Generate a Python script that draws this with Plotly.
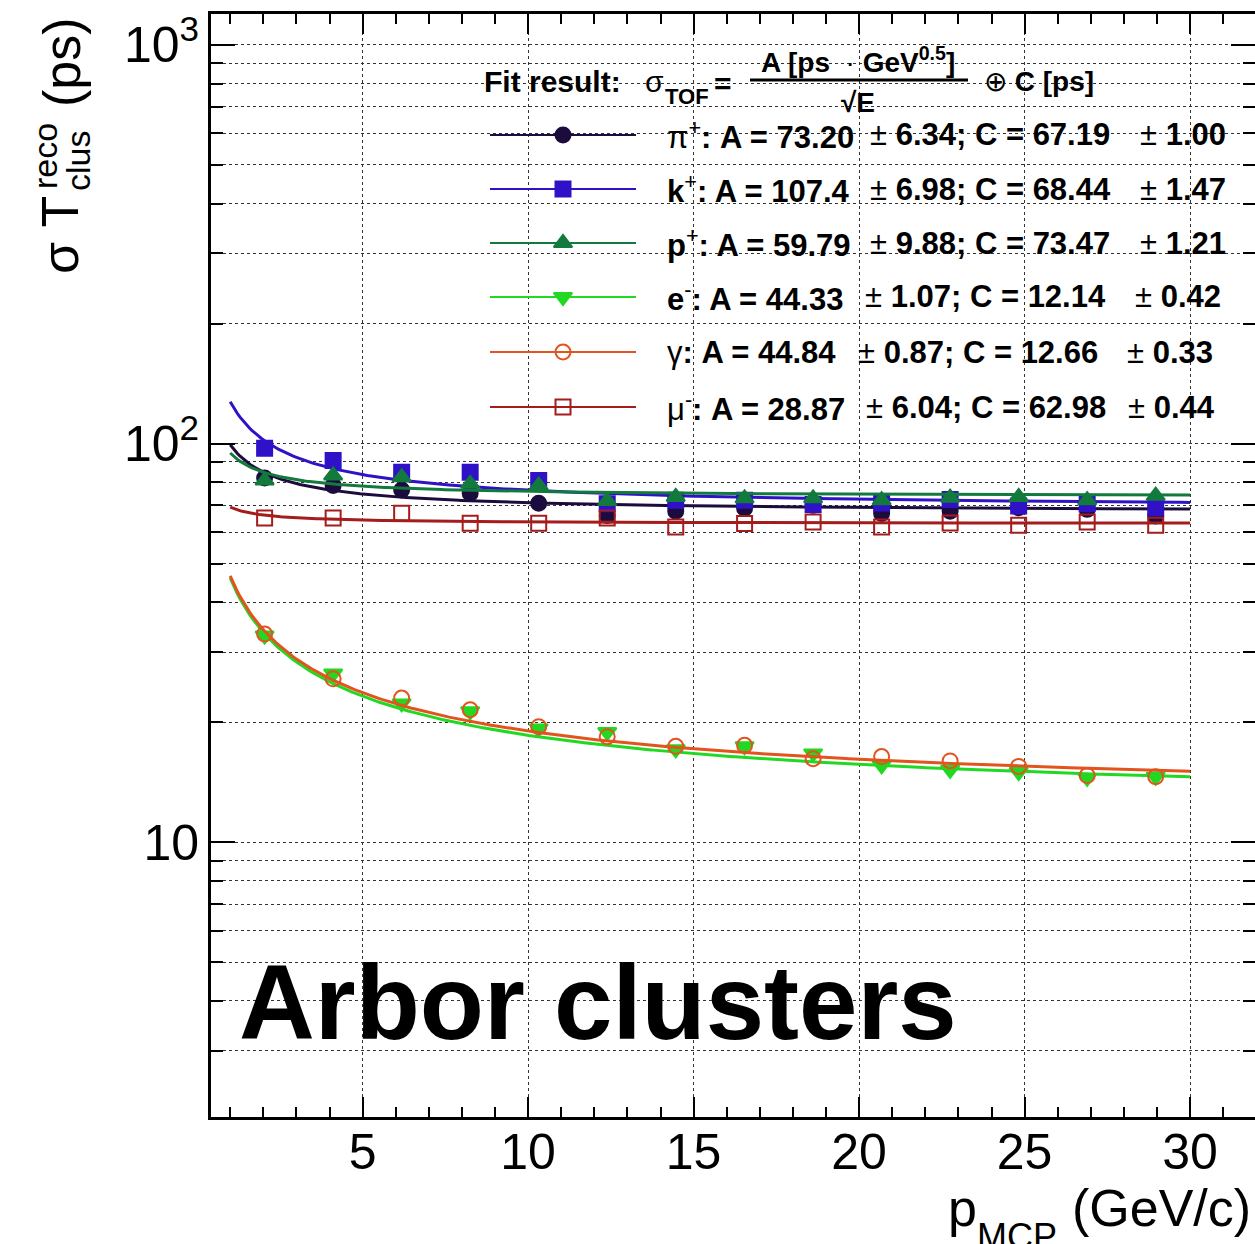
import numpy as np
import plotly.graph_objects as go

# ---------------- data ----------------
p_mcp = [2.04, 4.11, 6.18, 8.25, 10.32, 12.39, 14.46, 16.54, 18.61, 20.68, 22.75, 24.82, 26.89, 28.96]

sig_pi = [82.0, 78.5, 76.5, 75.1, 70.9, 66.0, 67.7, 68.8, 70.0, 66.8, 67.7, 69.0, 68.4, 65.8]
sig_k = [97.3, 90.7, 84.7, 84.7, 80.8, 70.7, 72.1, 72.1, 70.4, 71.0, 72.4, 69.7, 70.7, 69.0]
sig_p = [80.8, 83.2, 82.3, 79.3, 78.5, 71.8, 73.5, 72.9, 72.9, 72.1, 73.2, 73.5, 72.1, 74.0]
sig_e = [33.0, 26.5, 22.3, 21.3, 19.3, 18.9, 17.1, 17.4, 16.7, 15.6, 15.2, 15.0, 14.5, 14.6]
sig_gamma = [33.3, 25.7, 23.0, 21.5, 19.5, 18.4, 17.4, 17.5, 16.2, 16.4, 16.0, 15.5, 14.7, 14.6]
sig_mu = [65.1, 65.1, 66.9, 63.1, 63.1, 65.1, 61.8, 63.0, 63.6, 61.8, 63.2, 62.4, 63.6, 62.4]

species = ["pi", "k", "p", "e", "gamma", "mu"]
species_names = ["π<sup>+</sup>", "<b>k</b><sup>+</sup>", "<b>p</b><sup>+</sup>",
                 "<b>e</b><sup>-</sup>", "γ", "μ<sup>-</sup>"]
fit_A = [73.20, 107.4, 59.79, 44.33, 44.84, 28.87]
fit_A_err = [6.34, 6.98, 9.88, 1.07, 0.87, 6.04]
fit_C = [67.19, 68.44, 73.47, 12.14, 12.66, 62.98]
fit_C_err = [1.00, 1.47, 1.21, 0.42, 0.33, 0.44]
fit_A_txt = ["73.20", "107.4", "59.79", "44.33", "44.84", "28.87"]
fit_Aerr_txt = ["6.34", "6.98", "9.88", "1.07", "0.87", "6.04"]
fit_C_txt = ["67.19", "68.44", "73.47", "12.14", "12.66", "62.98"]
fit_Cerr_txt = ["1.00", "1.47", "1.21", "0.42", "0.33", "0.44"]
fit_range = [1.0, 30.0]

x_ticks = [5, 10, 15, 20, 25, 30]
y_ticks = [10, 100, 1000]
y_ticktext = ["10", "10<sup>2</sup>", "10<sup>3</sup>"]

# ---------------- styles ----------------
colors = ["#1c0c3e", "#2f12c8", "#137a3e", "#22d822", "#e2541e", "#a41c1c"]
symbols = ["circle", "square", "triangle-up", "triangle-down", "circle-open", "square-open"]
msize = [15, 15, 16, 16, 15, 15]
sig_all = [sig_pi, sig_k, sig_p, sig_e, sig_gamma, sig_mu]

FONT = "Liberation Sans, Arial, Helvetica, sans-serif"

# pixel frame of plot area
L, R, T, B = 211, 1255, 14, 1117
W, H = 1255, 1244
XR = [0.42, 31.96]
YR = [0.3108, 3.0777]


def px(x):
    return (x - L) / (R - L)


def py(y):
    return (B - y) / (B - T)


fig = go.Figure()

E = np.linspace(fit_range[0], fit_range[1], 400)
for i, s in enumerate(species):
    fig.add_trace(go.Scatter(
        x=p_mcp, y=sig_all[i], mode="markers", showlegend=False,
        marker=dict(symbol=symbols[i], size=msize[i], color=colors[i],
                    line=dict(color=colors[i], width=2)),
        cliponaxis=True))
    curve = np.sqrt((fit_A[i] / np.sqrt(E)) ** 2 + fit_C[i] ** 2)
    fig.add_trace(go.Scatter(x=E, y=curve, mode="lines", showlegend=False,
                             line=dict(color=colors[i], width=3)))

# dummy trace for mirrored axes
fig.add_trace(go.Scatter(x=[None], y=[None], xaxis="x2", yaxis="y2", showlegend=False))

# legend keys (pixel-coordinate overlay axes)
row_y = [135, 189, 243, 297, 352, 407]
key_x = [490, 636]
key_mx = 563
for i in range(6):
    fig.add_trace(go.Scatter(
        x=key_x, y=[row_y[i]] * 2, xaxis="x3", yaxis="y3",
        mode="lines", showlegend=False, line=dict(color=colors[i], width=2)))
    fig.add_trace(go.Scatter(
        x=[key_mx], y=[row_y[i]], xaxis="x3", yaxis="y3",
        mode="markers", showlegend=False,
        marker=dict(symbol=symbols[i], size=msize[i], color=colors[i], opacity=1,
                    line=dict(color=colors[i], width=2))))

minor_x = [v for v in range(1, 32) if v % 5 != 0]
minor_y = [m * 10 ** d for d in range(0, 3) for m in range(2, 10)]

common_x = dict(range=XR, tickmode="array", tickvals=x_ticks, ticks="inside",
                ticklen=20, tickwidth=2, tickcolor="black",
                minor=dict(tickmode="array", tickvals=minor_x, ticks="inside",
                           ticklen=10, tickwidth=2, tickcolor="black", showgrid=False),
                zeroline=False)
common_y = dict(type="log", range=YR, tickmode="array", tickvals=y_ticks, ticks="inside",
                ticklen=24, tickwidth=2, tickcolor="black", zeroline=False)

fig.update_layout(
    width=W, height=H, autosize=False,
    margin=dict(l=L, r=W - R, t=T, b=H - B, pad=0),
    plot_bgcolor="white", paper_bgcolor="white",
    font=dict(family=FONT, color="black"),
    xaxis=dict(**common_x, showline=True, linewidth=3, linecolor="black",
               showgrid=True, gridcolor="#333", griddash="dot", gridwidth=1,
               ticktext=[str(v) for v in x_ticks], tickfont=dict(size=50, family=FONT),
               ticklabelstandoff=-11),
    xaxis2=dict(**common_x, overlaying="x", side="top", anchor="y", showline=True,
                linewidth=3, linecolor="black", showgrid=False, showticklabels=False),
    yaxis=dict(**common_y, ticktext=y_ticktext, tickfont=dict(size=50, family=FONT),
               minor=dict(tickmode="array", tickvals=minor_y, ticks="inside",
                          ticklen=12, tickwidth=2, tickcolor="black", showgrid=True,
                          gridcolor="#333", griddash="dot", gridwidth=1),
               showline=True, linewidth=3, linecolor="black",
               showgrid=True, gridcolor="#333", griddash="dot", gridwidth=1,
               ticklabelstandoff=-1),
    yaxis2=dict(**common_y, overlaying="y", side="right", anchor="x", showline=False,
                showgrid=False, showticklabels=False,
                minor=dict(tickmode="array", tickvals=minor_y, ticks="inside",
                           ticklen=12, tickwidth=2, tickcolor="black", showgrid=False)),
    xaxis3=dict(overlaying="x", anchor="y3", range=[L, R], visible=False),
    yaxis3=dict(overlaying="y", anchor="x3", range=[B, T], visible=False),
)

ann = []


def add(text, x, y, size, xanchor="left", yanchor="middle", angle=0):
    ann.append(dict(text=text, x=px(x), y=py(y), xref="paper", yref="paper",
                    xanchor=xanchor, yanchor=yanchor, showarrow=False, textangle=angle,
                    font=dict(size=size, family=FONT, color="black")))


# header formula
add("<b>Fit result:</b>", 482, 81, 30)
add("σ", 643, 82, 30)
add("<b>TOF</b>", 663, 96, 22)
add("<b>=</b>", 712, 84, 30)
add("<b>A [ps</b>  · <b>GeV<sup>0.5</sup>]</b>", 858, 60, 28, xanchor="center")
add("<b>√E</b>", 858, 103, 28, xanchor="center")
add("⊕ <b>C [ps]</b>", 982, 82, 28)
fig.add_shape(type="line", xref="paper", yref="paper", x0=px(750), x1=px(968),
              y0=py(80), y1=py(80), line=dict(color="black", width=3))

# legend rows
seg1_x = [665, 665, 665, 665, 665, 665]
seg2_x = [868, 868, 868, 863, 856, 864]
seg3_x = [1138, 1138, 1138, 1133, 1125, 1126]
for i in range(6):
    add(species_names[i] + "<b>: A = " + fit_A_txt[i] + "</b>", seg1_x[i], row_y[i], 31)
    add("± <b>" + fit_Aerr_txt[i] + "; C = " + fit_C_txt[i] + "</b>", seg2_x[i], row_y[i], 31)
    add("± <b>" + fit_Cerr_txt[i] + "</b>", seg3_x[i], row_y[i], 31)

# big label
add("<b>Arbor clusters</b>", 237, 1002, 105)

# axis titles
add("p", 946, 1208, 52)
add("MCP", 975, 1236, 36)
add("(GeV/c)", 1253, 1208, 52, xanchor="right")

add("σ T", 60, 235, 52, xanchor="center", angle=-90)
add("reco", 45, 156, 34, xanchor="center", angle=-90)
add("clus", 78, 161, 34, xanchor="center", angle=-90)
add("(ps)", 62, 62, 52, xanchor="center", angle=-90)

fig.update_layout(annotations=ann)

fig.write_html("out.html")
